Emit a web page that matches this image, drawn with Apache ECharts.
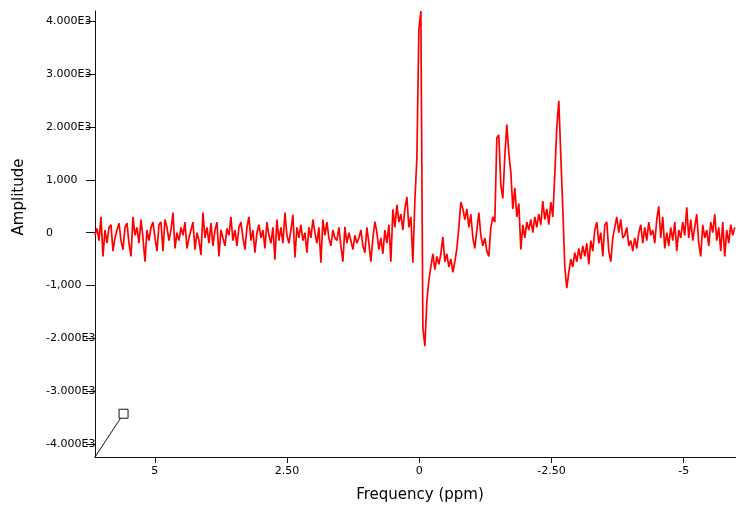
<!DOCTYPE html>
<html>
<head>
<meta charset="utf-8">
<title>Frequency spectrum</title>
<script src="https://cdn.jsdelivr.net/npm/echarts@6/dist/echarts.min.js"></script>
<style>
  html, body { margin: 0; padding: 0; background: #ffffff; }
  #chart { width: 736px; height: 508px; }
</style>
</head>
<body>
<div id="chart"></div>
<script>
// Frequency sampling of the spectrum (ppm), highest frequency first
const ppmStart = 6.13;
const ppmStep = 0.0378;

// Amplitude of each sample, in order of decreasing ppm
const amplitude = [
  -50, 80, -150, 300, -450, 50, -200, 100, 150, -350,
  -100, 50, 180, -150, -320, 100, 180, -200, -450, 300,
  -50, 100, -200, 250, -100, -550, 50, -150, 100, 200,
  -100, -350, 150, 200, -350, 250, 100, -150, 50, 380,
  -300, 0, -150, 100, -50, 200, -300, -100, 50, 200,
  -320, 0, -150, -420, 380, -100, 100, -200, 180, -250,
  50, 200, -450, 50, -100, -250, 80, -50, 300, -150,
  50, -250, 100, 200, -100, -320, 100, 300, -150, 50,
  -380, 0, 150, -100, 50, -300, 200, -50, -200, 100,
  -510, 250, -150, 100, -200, 380, -50, -200, 50, 340,
  -470, 100, -100, 150, -150, 0, -380, 100, -100, 250,
  0, -200, 100, -570, 250, -50, 200, -100, -250, 50,
  -100, -150, 100, -250, -550, 110, -200, 0, -150, -320,
  -50, -200, -100, 50, -250, -380, 100, -200, -550, -100,
  210, 0, -320, -100, -400, 50, -200, 150, -550, 440,
  100, 530, 200, 350, 50, 450, 680, 100, 300, -570,
  600, 1400, 3850, 4200, -1800, -2150, -1300, -900, -650, -400,
  -700, -450, -600, -400, -80, -550, -400, -650, -500, -750,
  -550, -300, 100, 580, 450, 250, 450, 100, 350, -100,
  -300, 50, 380, -50, -250, -100, -350, -450, 100, 300,
  200, 1800, 1850, 900, 650, 1450, 2050, 1500, 1150, 450,
  850, 300, 550, -320, 150, -100, 200, 50, 250, 0,
  300, 100, 350, 150, 600, 250, 450, 150, 580, 300,
  1100, 2000, 2500, 1450, 450, -650, -1050, -750, -500, -650,
  -380, -550, -300, -500, -250, -450, -200, -600, -150, -350,
  50, 200, -200, 0, -450, 150, 200, -350, -550, -100,
  100, 300, 0, 250, -100, -50, 100, -250, -150, -350,
  -100, -300, 0, 150, -200, 100, -150, 200, -50, 50,
  -200, 250, 500, -100, 300, -300, 0, -250, 100, -150,
  200, -350, 50, -100, 200, -50, 480, -100, 250, -150,
  100, 350, -200, -450, 150, -100, 50, -250, 200, 0,
  350, -150, 100, -350, 200, -450, 50, -200, 150, -50,
  100
];

// Cursor marker: from the axis origin to its handle
const cursorPpm = [6.13, 5.59];
const cursorAmp = [-4250, -3430];

// Axis ticks and their labels
const xTickValues = [5, 2.5, 0, -2.5, -5];
const xTickLabels = ['5', '2.50', '0', '-2.50', '-5'];
const yTickValues = [4000, 3000, 2000, 1000, 0, -1000, -2000, -3000, -4000];
const yTickLabels = ['4.000E3', '3.000E3', '2.000E3', '1,000', '0', '-1,000', '-2.000E3', '-3.000E3', '-4.000E3'];

const spectrum = amplitude.map((v, i) => [+(ppmStart - i * ppmStep).toFixed(4), v]);
const cursor = cursorPpm.map((p, i) => [p, cursorAmp[i]]);

const font = 'DejaVu Sans';
const chart = echarts.init(document.getElementById('chart'), null, { renderer: 'canvas' });

chart.setOption({
  animation: false,
  backgroundColor: '#ffffff',
  grid: { left: 95, right: 0, top: 11, bottom: 51, containLabel: false, outerBoundsMode: 'none' },
  xAxis: {
    type: 'value',
    inverse: true,
    min: -5.99,
    max: 6.13,
    name: 'Frequency (ppm)',
    nameLocation: 'middle',
    nameGap: 31,
    nameTextStyle: { fontFamily: font, fontSize: 15, color: '#000', padding: [0, 0, 0, 9] },
    axisLine: { show: true, onZero: false, lineStyle: { color: '#111', width: 1 } },
    axisTick: { show: true, length: 6, customValues: xTickValues, lineStyle: { color: '#111' } },
    axisLabel: {
      customValues: xTickValues,
      margin: 9,
      fontFamily: font,
      fontSize: 11,
      color: '#000',
      formatter: v => {
        const k = xTickValues.findIndex(t => Math.abs(t - v) < 1e-6);
        return k >= 0 ? xTickLabels[k] : '';
      }
    },
    splitLine: { show: false }
  },
  yAxis: {
    type: 'value',
    min: -4250,
    max: 4200,
    axisLine: { show: true, onZero: false, lineStyle: { color: '#111', width: 1 } },
    axisTick: { show: true, length: 9, customValues: yTickValues, lineStyle: { color: '#111' } },
    axisLabel: {
      customValues: yTickValues,
      align: 'left',
      margin: 49,
      fontFamily: font,
      fontSize: 11,
      color: '#000',
      formatter: v => {
        const k = yTickValues.findIndex(t => Math.abs(t - v) < 1e-6);
        return k >= 0 ? yTickLabels[k] : '';
      }
    },
    splitLine: { show: false }
  },
  graphic: [{
    type: 'text',
    x: 19,
    y: 197,
    rotation: Math.PI / 2,
    style: {
      text: 'Amplitude',
      fontFamily: font,
      fontSize: 15,
      fill: '#000',
      align: 'center',
      verticalAlign: 'middle'
    }
  }],
  series: [
    {
      type: 'line',
      data: spectrum,
      showSymbol: false,
      symbol: 'none',
      lineStyle: { color: '#ff0000', width: 1.7 },
      z: 3
    },
    {
      type: 'line',
      data: cursor,
      symbol: (val, params) => params.dataIndex === 1 ? 'rect' : 'none',
      symbolSize: 9,
      showSymbol: true,
      itemStyle: { color: '#ffffff', borderColor: '#111', borderWidth: 1 },
      lineStyle: { color: '#111', width: 1 },
      z: 4
    }
  ]
});
</script>
</body>
</html>
